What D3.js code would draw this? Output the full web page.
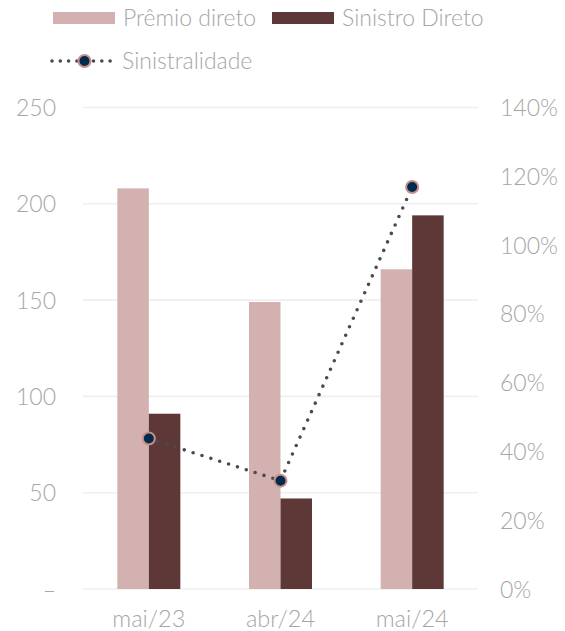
<!DOCTYPE html>
<html><head><meta charset="utf-8">
<script src="https://cdn.jsdelivr.net/npm/d3@7"></script>
<style>
html,body{margin:0;padding:0;background:#fff;}
svg text{font-family:Lato,"Open Sans",sans-serif;font-weight:300;fill:#A6A6A6;}
</style></head>
<body>
<svg id="chart" width="565" height="631"></svg>
<script>
const categories = ["mai/23", "abr/24", "mai/24"];
const premioDireto = [208, 149, 166];
const sinistroDireto = [91, 47, 194];
const sinistralidade = [0.4375, 0.315, 1.169];
const leftTicks = [0, 50, 100, 150, 200, 250];
const rightTicks = [0, 0.2, 0.4, 0.6, 0.8, 1.0, 1.2, 1.4];
const seriesNames = ["Prêmio direto", "Sinistro Direto", "Sinistralidade"];
const colors = {premio: "#D2B1B0", sinistro: "#5E3737", line: "#4A4A4F", marker: "#002B4D", markerStroke: "#C98E8C", grid: "#EFEFEF"};

const svg = d3.select("#chart");
const plotLeft = 83, plotRight = 478, plotTop = 107.5, plotBottom = 589;
const fs = 23;

const x = d3.scaleBand().domain(categories).range([plotLeft, plotRight]).paddingInner(0).paddingOuter(0);
const y = d3.scaleLinear().domain([0, 250]).range([plotBottom, plotTop]);
const y2 = d3.scaleLinear().domain([0, 1.4]).range([plotBottom, plotTop]);
const barW = 31.5;

// gridlines
svg.append("g").selectAll("line").data(leftTicks).join("line")
  .attr("x1", plotLeft).attr("x2", plotRight)
  .attr("y1", d => y(d)).attr("y2", d => y(d))
  .attr("stroke", colors.grid).attr("stroke-width", 1.6);

function styleAxis(g) {
  g.select(".domain").remove();
  g.selectAll("text").attr("font-size", fs).attr("dy", "0.35em")
    .style("font-family", "Lato").style("font-weight", 300).attr("fill", "#A6A6A6");
}

// left axis
const yAxis = d3.axisLeft(y).tickValues(leftTicks).tickSize(0).tickPadding(0)
  .tickFormat(d => d === 0 ? "–" : d3.format("d")(d));
svg.append("g").attr("transform", "translate(56,0)").call(yAxis).call(styleAxis);

// right axis
const y2Axis = d3.axisRight(y2).tickValues(rightTicks).tickSize(0).tickPadding(0)
  .tickFormat(d3.format(".0%"));
svg.append("g").attr("transform", "translate(500,0)").call(y2Axis).call(styleAxis);

// x axis
const xAxis = d3.axisBottom(x).tickSize(0).tickPadding(0);
svg.append("g").attr("transform", "translate(0,627)").call(xAxis).call(styleAxis)
  .selectAll("text").attr("dy", "0").attr("font-size", 23.5);

// bars
const cx = c => x(c) + x.bandwidth() / 2;
svg.append("g").selectAll("rect").data(categories).join("rect")
  .attr("x", c => cx(c) - barW).attr("width", barW)
  .attr("y", (c, i) => y(premioDireto[i])).attr("height", (c, i) => y(0) - y(premioDireto[i]))
  .attr("fill", colors.premio);
svg.append("g").selectAll("rect").data(categories).join("rect")
  .attr("x", c => cx(c)).attr("width", barW)
  .attr("y", (c, i) => y(sinistroDireto[i])).attr("height", (c, i) => y(0) - y(sinistroDireto[i]))
  .attr("fill", colors.sinistro);

// line
const line = d3.line().x((d, i) => cx(categories[i])).y(d => y2(d));
svg.append("path").datum(sinistralidade).attr("d", line)
  .attr("fill", "none").attr("stroke", colors.line).attr("stroke-width", 3.6)
  .attr("stroke-linecap", "round").attr("stroke-dasharray", "0,9.3");
svg.append("g").selectAll("circle").data(sinistralidade).join("circle")
  .attr("cx", (d, i) => cx(categories[i])).attr("cy", d => y2(d)).attr("r", 6)
  .attr("fill", colors.marker).attr("stroke", colors.markerStroke).attr("stroke-width", 2);

// legend
const lg = svg.append("g");
lg.append("rect").attr("x", 53).attr("y", 12).attr("width", 62).attr("height", 12).attr("fill", colors.premio);
lg.append("text").attr("x", 123).attr("y", 18).attr("dy", "0.35em").attr("font-size", fs).text(seriesNames[0]);
lg.append("rect").attr("x", 272).attr("y", 12).attr("width", 62).attr("height", 12).attr("fill", colors.sinistro);
lg.append("text").attr("x", 342).attr("y", 18).attr("dy", "0.35em").attr("font-size", fs).text(seriesNames[1]);
lg.append("line").attr("x1", 52).attr("x2", 117).attr("y1", 61).attr("y2", 61)
  .attr("stroke", colors.line).attr("stroke-width", 3.6).attr("stroke-linecap", "round").attr("stroke-dasharray", "0,8.3");
lg.append("circle").attr("cx", 84.5).attr("cy", 61).attr("r", 6)
  .attr("fill", colors.marker).attr("stroke", colors.markerStroke).attr("stroke-width", 2);
lg.append("text").attr("x", 122).attr("y", 61).attr("dy", "0.35em").attr("font-size", fs).text(seriesNames[2]);
</script>
</body></html>
